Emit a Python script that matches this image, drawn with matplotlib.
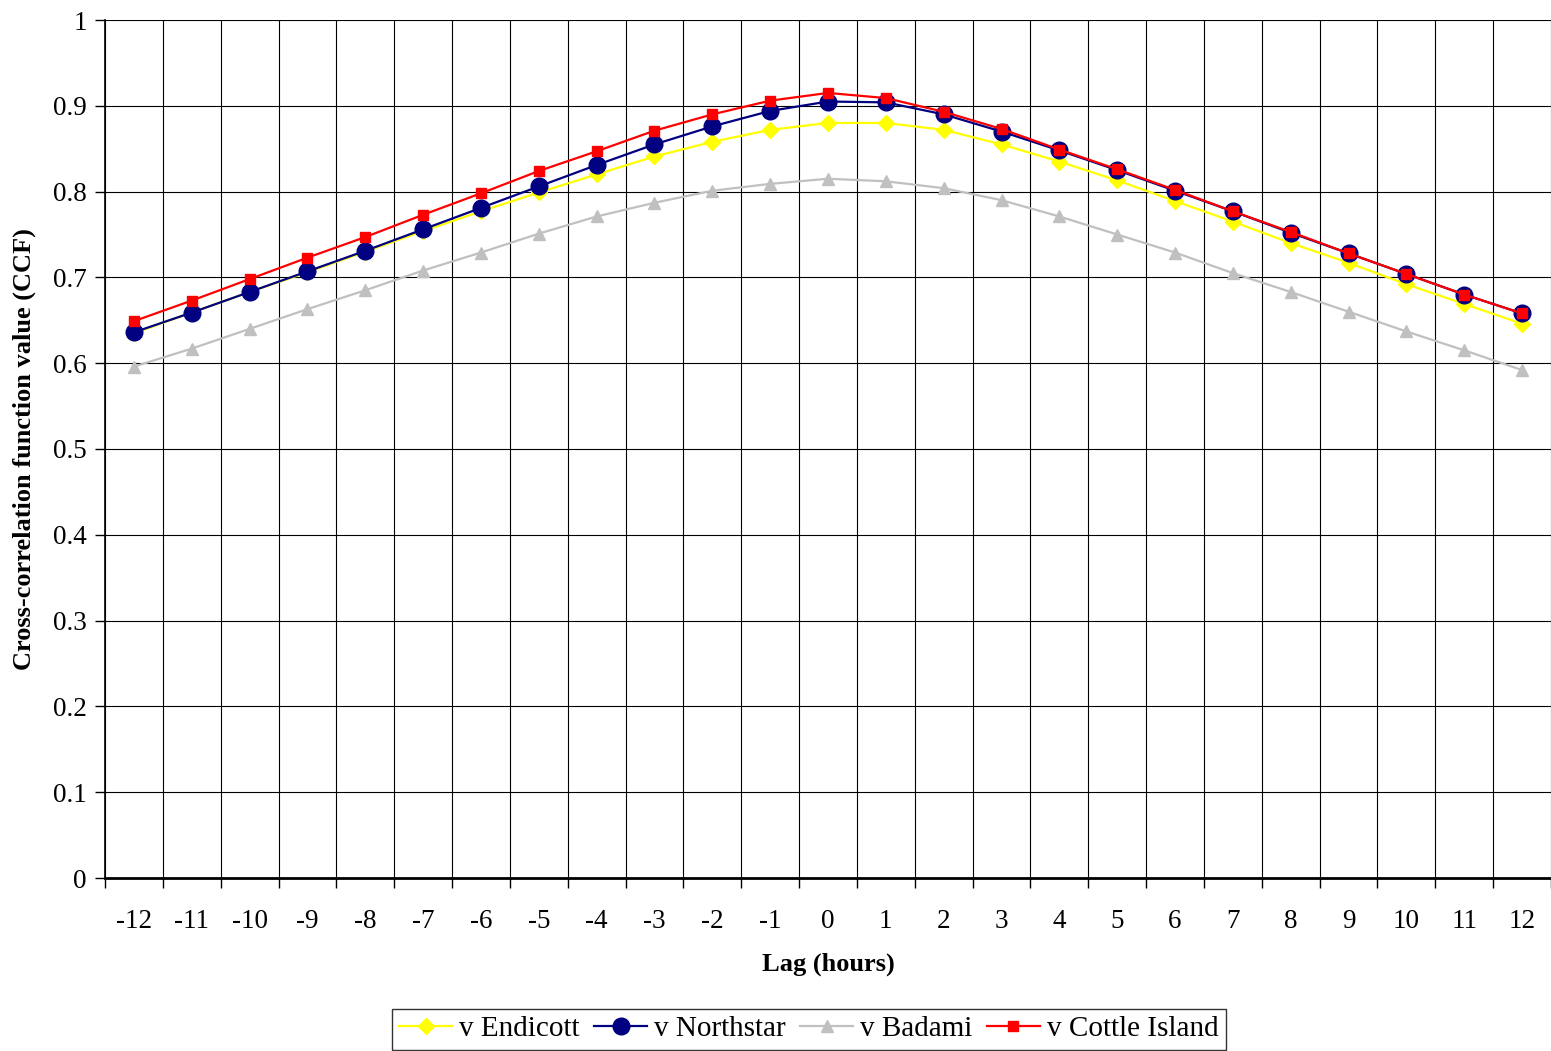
import numpy as np
import matplotlib
matplotlib.use("Agg")
import matplotlib.pyplot as plt

plt.rcParams['font.family'] = ['Liberation Serif', 'DejaVu Serif']

lags = list(range(-12, 13))

endicott = [0.635, 0.659, 0.683, 0.706, 0.730, 0.754, 0.777, 0.799, 0.820, 0.841, 0.858, 0.872, 0.880,
            0.880, 0.872, 0.855, 0.835, 0.813, 0.789, 0.765, 0.740, 0.717, 0.692, 0.669, 0.646]
northstar = [0.636, 0.659, 0.683, 0.707, 0.731, 0.756, 0.781, 0.806, 0.831, 0.855, 0.876, 0.894, 0.905,
             0.904, 0.890, 0.870, 0.848, 0.825, 0.801, 0.777, 0.752, 0.728, 0.704, 0.680, 0.658]
badami = [0.596, 0.617, 0.640, 0.663, 0.685, 0.708, 0.729, 0.751, 0.771, 0.787, 0.801, 0.809, 0.815,
          0.812, 0.804, 0.790, 0.771, 0.750, 0.729, 0.705, 0.683, 0.660, 0.637, 0.615, 0.592]
cottle = [0.649, 0.673, 0.698, 0.723, 0.747, 0.773, 0.798, 0.824, 0.847, 0.871, 0.890, 0.906, 0.915,
          0.909, 0.893, 0.873, 0.849, 0.826, 0.802, 0.777, 0.753, 0.728, 0.704, 0.680, 0.658]

series_names = ['v Endicott', 'v Northstar', 'v Badami', 'v Cottle Island']

W, H = 1551, 1051
fig = plt.figure(figsize=(W / 100, H / 100), dpi=100)
ax = fig.add_axes([105 / W, 1 - 878 / H, (1551 - 105) / W, (878 - 20) / H])

ax.plot(lags, endicott, color='#FFFF00', lw=1.6, marker='D', ms=8, mec='#FFFF00', label=series_names[0], zorder=3)
ax.plot(lags, northstar, color='#000080', lw=1.6, marker='o', ms=12, mec='#000080', label=series_names[1], zorder=4)
ax.plot(lags, badami, color='#C0C0C0', lw=1.6, marker='^', ms=9, mec='#C0C0C0', label=series_names[2], zorder=3)
ax.plot(lags, cottle, color='#FF0000', lw=1.6, marker='s', ms=7.5, mec='#FF0000', label=series_names[3], zorder=5)

ax.set_xlim(-12.5, 12.5)
ax.set_ylim(0, 1)

# category ticks at band boundaries, labels at centres
ax.set_xticks(np.arange(-12.5, 13.0, 1.0))
ax.set_xticklabels([])
ax.set_xticks(lags, minor=True)
ax.set_xticklabels([str(v) for v in lags], minor=True, fontsize=19.5)
ax.tick_params(axis='x', which='major', direction='out', length=7, width=1, color='black')
ax.tick_params(axis='x', which='minor', length=0, pad=22)
ax.set_yticks(np.arange(0, 1.01, 0.1))
ax.set_yticklabels(['0', '0.1', '0.2', '0.3', '0.4', '0.5', '0.6', '0.7', '0.8', '0.9', '1'], fontsize=19.5)
ax.tick_params(axis='y', direction='out', length=7, width=1, color='black', pad=6)

ax.grid(True, which='major', color='black', lw=0.8)
ax.set_axisbelow(True)
for s in ['top', 'right']:
    ax.spines[s].set_visible(False)
ax.spines['left'].set_linewidth(1.2)
ax.spines['bottom'].set_linewidth(2)

ax.set_xlabel('Lag (hours)', fontsize=19, fontweight='bold', labelpad=14)
ax.set_ylabel('Cross-correlation function value (CCF)', fontsize=19, fontweight='bold', labelpad=12)

leg = fig.legend(loc='center', bbox_to_anchor=(809 / W, 1 - 1029 / H), ncol=4, fontsize=21,
                 frameon=True, fancybox=False, edgecolor='black', handlelength=1.8,
                 handletextpad=0.25, columnspacing=0.5, borderpad=0.25)
leg.get_frame().set_linewidth(1)

fig.savefig('out.png', dpi=100)
